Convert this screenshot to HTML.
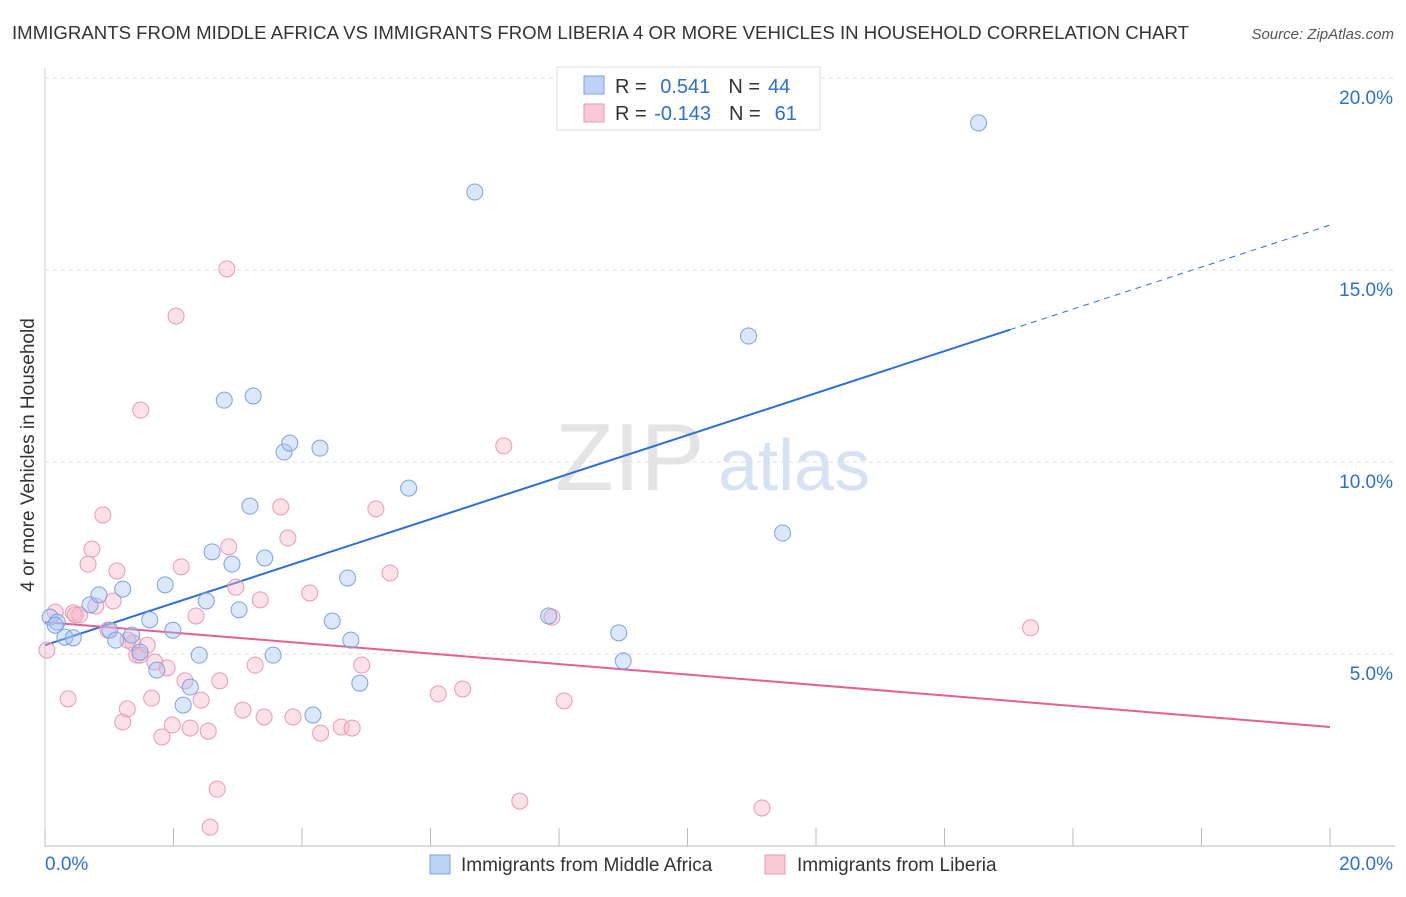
<!DOCTYPE html>
<html><head><meta charset="utf-8"><style>
body{margin:0;background:#fff;font-family:"Liberation Sans",sans-serif;}
svg text{font-family:"Liberation Sans",sans-serif;}
</style></head><body>
<svg id="chart" width="1406" height="892">
<text x="12" y="39" font-size="18.6" fill="#333" textLength="1177">IMMIGRANTS FROM MIDDLE AFRICA VS IMMIGRANTS FROM LIBERIA 4 OR MORE VEHICLES IN HOUSEHOLD CORRELATION CHART</text>
<text x="1394" y="39" font-size="15" fill="#555" font-style="italic" text-anchor="end">Source: ZipAtlas.com</text>
<text x="0" y="0" transform="translate(34,455) rotate(-90)" font-size="19" fill="#333" text-anchor="middle">4 or more Vehicles in Household</text>
<text x="555" y="490" font-size="96" fill="#e4e4e4" font-family="Liberation Serif">ZIP</text>
<text x="718" y="490" font-size="72" fill="#d6e2f4">atlas</text>
<g id="grid"></g>
<g id="axes"></g>
<g id="lines"></g>
<g id="pts"></g>
<g>
<rect x="557" y="67" width="263" height="63" fill="#fff" stroke="#ddd"/>
<rect x="584" y="76" width="20" height="18" fill="#bcd3f5" stroke="#7da2e0"/>
<rect x="584" y="104" width="20" height="18" fill="#f9c9d8" stroke="#e99ab3"/>
<text x="615" y="93" font-size="20" fill="#333">R = <tspan fill="#2c6fd6" dx="8">0.541</tspan><tspan dx="18" fill="#333">N =</tspan><tspan dx="8" fill="#2c6fd6">44</tspan></text>
<text x="615" y="120" font-size="20" fill="#333">R = <tspan fill="#2c6fd6" dx="2">-0.143</tspan><tspan dx="18" fill="#333">N =</tspan><tspan dx="14" fill="#2c6fd6">61</tspan></text>
</g>
<g>
<rect x="430" y="855" width="20" height="19" fill="#bcd3f5" stroke="#7da2e0"/>
<text x="461" y="871" font-size="19" fill="#333">Immigrants from Middle Africa</text>
<rect x="765" y="855" width="20" height="19" fill="#f9c9d8" stroke="#e99ab3"/>
<text x="797" y="871" font-size="19" fill="#333">Immigrants from Liberia</text>
</g>
</svg>
<script>
const blueX=[0.08,0.19,0.31,0.44,0.70,0.84,1.01,1.10,1.21,1.35,1.48,1.63,1.74,1.87,1.99,2.15,2.26,2.40,2.51,2.60,2.79,2.91,3.02,3.19,3.24,3.42,3.55,3.72,3.81,4.17,4.28,4.47,4.71,4.76,4.90,5.66,6.69,7.84,8.93,9.00,10.95,11.48,14.53,0.16];
const blueY=[5.96,5.83,5.44,5.42,6.28,6.54,5.62,5.36,6.69,5.49,5.05,5.89,4.58,6.80,5.62,3.67,4.14,4.97,6.38,7.66,11.61,7.34,6.15,8.85,11.72,7.50,4.97,10.26,10.49,3.41,10.36,5.86,6.98,5.36,4.24,9.32,17.03,5.99,5.55,4.82,13.28,8.15,18.83,5.75];
const pinkX=[0.03,0.16,0.36,0.44,0.54,0.67,0.73,0.79,0.90,0.98,1.06,1.12,1.21,1.28,1.37,1.43,1.49,1.59,1.66,1.71,1.82,1.90,1.98,2.04,2.12,2.18,2.26,2.35,2.43,2.54,2.57,2.68,2.72,2.83,2.86,2.97,3.08,3.27,3.35,3.41,3.67,3.78,3.86,4.12,4.29,4.61,4.78,4.93,5.15,5.37,6.12,6.50,7.14,7.39,7.89,8.08,11.16,15.34,0.47,1.29,1.48];
const pinkY=[5.10,6.09,3.83,6.07,6.02,7.34,7.73,6.25,8.62,5.62,6.38,7.16,3.23,3.57,5.29,4.97,11.35,5.23,3.85,4.79,2.84,4.64,3.15,13.80,7.27,4.30,3.07,5.99,3.80,2.99,0.49,1.48,4.30,15.03,7.79,6.74,3.54,4.71,6.41,3.36,8.83,8.02,3.36,6.59,2.94,3.10,3.07,4.71,8.78,7.11,3.96,4.09,10.42,1.17,5.96,3.78,0.99,5.68,6.02,5.36,4.97];
const yTicks=[5,10,15,20];
const yTickLabels=["5.0%","10.0%","15.0%","20.0%"];
const blueTrend=[5.23,0.547]; // intercept, slope
const pinkTrend=[5.83,-0.1365];
const NS="http://www.w3.org/2000/svg";
const X=v=>45+v/20*1285, Y=v=>846-v/20*768;
function mk(tag,attrs,parent){const e=document.createElementNS(NS,tag);for(const k in attrs)e.setAttribute(k,attrs[k]);document.getElementById(parent).appendChild(e);return e;}
yTicks.forEach((t,i)=>{
 const g=mk('line',{x1:45,x2:1395,y1:Y(t),y2:Y(t),stroke:'#ddd','stroke-dasharray':'4,4'},'grid');
 
 
 const l=mk('text',{x:1393,y:Y(t)+26,'font-size':19,fill:'#2c6fd6','text-anchor':'end'},'grid');
 l.textContent=yTickLabels[i];
 
 
});
const ax=mk('line',{x1:45,x2:1395,y1:846,y2:846,stroke:'#bbb'},'axes');


mk('line',{x1:45,x2:45,y1:68,y2:846,stroke:'#ccc'},'axes');
for(let i=0;i<=10;i++){const t=mk('line',{x1:X(i*2),x2:X(i*2),y1:828,y2:846,stroke:'#bbb'},'axes');
 
 }
let xl=mk('text',{x:45,y:870,'font-size':19,fill:'#2c6fd6'},'axes');xl.textContent='0.0%';


xl=mk('text',{x:1393,y:870,'font-size':19,fill:'#2c6fd6','text-anchor':'end'},'axes');xl.textContent='20.0%';


function pts(xs,ys,fill,stroke,name){xs.forEach((x,i)=>{const c=mk('circle',{cx:X(x),cy:Y(ys[i]),r:8,fill:fill,stroke:stroke,'stroke-width':1},'pts');
 
 });}
pts(pinkX,pinkY,'rgba(248,180,200,0.4)','#e99ab3','liberia-point');
pts(blueX,blueY,'rgba(164,194,244,0.4)','#7da2e0','middle-africa-point');
const bEnd=15.02;
let ln=mk('line',{x1:X(0),y1:Y(blueTrend[0]),x2:X(bEnd),y2:Y(blueTrend[0]+blueTrend[1]*bEnd),stroke:'#2c6fd6','stroke-width':2},'lines');


ln=mk('line',{x1:X(bEnd),y1:Y(blueTrend[0]+blueTrend[1]*bEnd),x2:X(20),y2:Y(blueTrend[0]+blueTrend[1]*20),stroke:'#2c6fd6','stroke-width':1,'stroke-dasharray':'6,5'},'lines');


ln=mk('line',{x1:X(0),y1:Y(pinkTrend[0]),x2:X(20),y2:Y(pinkTrend[0]+pinkTrend[1]*20),stroke:'#e55f92','stroke-width':2},'lines');


</script>
</body></html>
